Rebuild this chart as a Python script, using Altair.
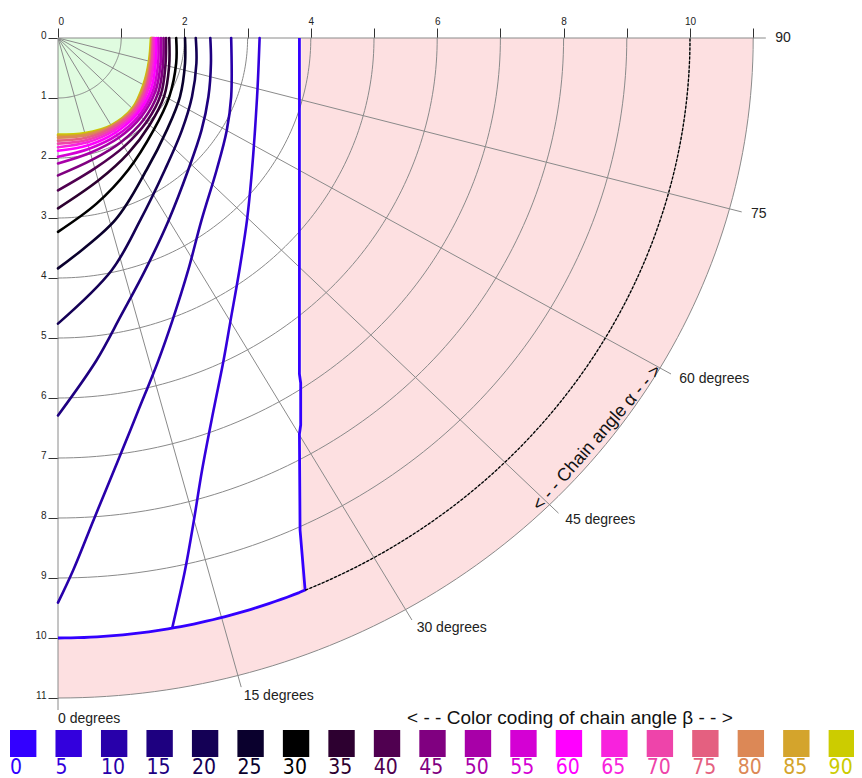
import numpy as np
import pandas as pd
import altair as alt

# ---------------- data ----------------
betas = list(range(0, 95, 5))
beta_colors = ["#3300ff", "#3300dd", "#2800aa", "#1e0080", "#140055", "#0a002d",
               "#000000", "#2d0030", "#500050", "#800080", "#a800a8", "#d400d4",
               "#ff00ff", "#f822dd", "#ee44aa", "#e46080", "#dc8856", "#d4a42c",
               "#cccc00"]

# chain-angle beta curves, cartesian readings (x to the right, y downwards)
b0_x = [3.82, 3.82, 3.84, 3.84, 3.82, 3.83, 3.91]
b0_y = [0.00, 5.60, 5.75, 6.45, 6.60, 8.20, 9.20]
b5_x = [3.19, 3.15, 3.06, 2.99, 2.87, 2.73, 2.62, 2.46, 2.28, 2.15, 2.01, 1.81]
b5_y = [0.00, 0.98, 2.32, 3.04, 3.87, 4.71, 5.37, 6.21, 7.20, 8.04, 8.87, 9.82]
b10_x = [2.74, 2.74, 2.67, 2.51, 2.27, 2.06, 1.81, 1.59, 1.27, 0.95, 0.56, 0.24, 0.00]
b10_y = [0.00, 0.98, 1.54, 2.20, 3.04, 3.87, 4.71, 5.37, 6.21, 7.04, 8.04, 8.87, 9.41]
b15_x = [2.41, 2.42, 2.38, 2.27, 2.06, 1.75, 1.38, 1.00, 0.61, 0.00]
b15_y = [0.00, 0.42, 0.98, 1.54, 2.20, 3.04, 3.87, 4.62, 5.37, 6.29]
b20_x = [2.18, 2.19, 2.12, 1.96, 1.69, 1.30, 0.85, 0.00]
b20_y = [0.00, 0.42, 0.98, 1.54, 2.20, 3.04, 3.87, 4.76]
b25_x = [2.01, 2.01, 1.93, 1.72, 1.40, 0.90, 0.00]
b25_y = [0.00, 0.42, 0.98, 1.54, 2.20, 3.04, 3.84]
b30_x = [1.87, 1.87, 1.76, 1.51, 1.11, 0.61, 0.00]
b30_y = [0.00, 0.42, 0.98, 1.54, 2.20, 2.76, 3.23]

# crowded curves near the origin: radius read at angles from the vertical axis
polar_theta = [0, 15, 30, 45, 60, 75, 90]
r35 = [2.84, 2.46, 2.22, 2.05, 1.94, 1.82, 1.76]
r40 = [2.54, 2.25, 2.09, 1.98, 1.88, 1.76, 1.71]
r45 = [2.29, 2.10, 2.00, 1.92, 1.83, 1.72, 1.67]
r50 = [2.09, 1.98, 1.92, 1.86, 1.78, 1.68, 1.63]
r55 = [1.98, 1.91, 1.87, 1.82, 1.74, 1.64, 1.59]
r60 = [1.88, 1.85, 1.82, 1.78, 1.70, 1.60, 1.56]
r65 = [1.82, 1.80, 1.78, 1.75, 1.66, 1.57, 1.53]
r70 = [1.76, 1.76, 1.75, 1.72, 1.63, 1.54, 1.51]
r75 = [1.71, 1.72, 1.72, 1.70, 1.61, 1.53, 1.50]
r80 = [1.66, 1.68, 1.70, 1.68, 1.59, 1.51, 1.49]
r85 = [1.63, 1.66, 1.69, 1.67, 1.57, 1.50, 1.48]
r90 = [1.61, 1.64, 1.68, 1.66, 1.56, 1.49, 1.47]

alpha_radius = 10.0
outer_radius = 11.0
ray_radius = 11.2
grid_radii = list(range(1, 12))
ray_angles = [0, 15, 30, 45, 60, 75, 90]
ray_labels = ["0 degrees", "15 degrees", "30 degrees", "45 degrees",
              "60 degrees", "75", "90"]
axis_ticks = list(range(0, 12))

# ---------------- layout ----------------
X_MAX, Y_MAX = 12.5, 12.2
W, H = 790, 732
FONT = "Liberation Sans"

xs = alt.Scale(domain=[0, X_MAX], nice=False, zero=False)
ys = alt.Scale(domain=[0, Y_MAX], nice=False, zero=False, reverse=True)
xaxis = alt.Axis(orient="top", values=axis_ticks,
                 labelExpr="datum.value % 2 == 0 ? datum.label : ''",
                 tickSize=10, domain=False, grid=False, title=None,
                 labelFontSize=10, labelFont=FONT, labelColor="#222",
                 tickColor="#333", labelPadding=2, labelOverlap=False)
yaxis = alt.Axis(orient="left", values=axis_ticks, tickSize=10, domain=False,
                 grid=False, title=None, labelFontSize=10, labelFont=FONT,
                 labelColor="#222", tickColor="#333", labelPadding=2,
                 labelBaseline="alphabetic", labelOverlap=False)


def X(f):
    return alt.X(f, type="quantitative", scale=xs, axis=xaxis)


def Y(f):
    return alt.Y(f, type="quantitative", scale=ys, axis=yaxis)


def polar_df(r_list, th_deg):
    th = np.radians(np.asarray(th_deg, dtype=float))
    r = np.asarray(r_list, dtype=float)
    return pd.DataFrame({"x": r * np.sin(th), "y": r * np.cos(th),
                         "i": np.arange(len(th))})


# background regions
xa = np.linspace(0, outer_radius, 300)
annulus = pd.DataFrame({"x": xa,
                        "y": np.sqrt(np.clip(alpha_radius**2 - xa**2, 0, None)),
                        "y2": np.sqrt(np.clip(outer_radius**2 - xa**2, 0, None))})
xb = np.linspace(3.85, alpha_radius, 200)
block = pd.DataFrame({"x": xb, "y": 0.0,
                      "y2": np.sqrt(np.clip(alpha_radius**2 - xb**2, 0, None))})
pink = "#fde0e1"
green_df = polar_df(r90, polar_theta)
green_df["y2"] = 0.0

layers = []
layers.append(alt.Chart(annulus).mark_area(color=pink, opacity=1).encode(
    x=X("x"), y=Y("y"), y2="y2"))
layers.append(alt.Chart(block).mark_area(color=pink, opacity=1).encode(
    x=X("x"), y=Y("y"), y2="y2"))
layers.append(alt.Chart(green_df).mark_area(color="#e0fce0", opacity=1,
                                            interpolate="catmull-rom").encode(
    x=X("x"), y=Y("y"), y2="y2"))

# polar grid
gt = np.arange(0, 90.5, 1.0)
grid_rows = []
for r in grid_radii:
    for k, t in enumerate(gt):
        grid_rows.append({"r": r, "i": k, "x": r * np.sin(np.radians(t)),
                          "y": r * np.cos(np.radians(t))})
grid_df = pd.DataFrame(grid_rows)
layers.append(alt.Chart(grid_df).mark_line(color="#8a8a8a", strokeWidth=1).encode(
    x=X("x"), y=Y("y"), detail="r:N", order="i:Q"))

rays = pd.DataFrame({"a": ray_angles})
rays["x"] = 0.0
rays["y"] = 0.0
rays["x2"] = ray_radius * np.sin(np.radians(rays["a"]))
rays["y2"] = ray_radius * np.cos(np.radians(rays["a"]))
layers.append(alt.Chart(rays).mark_rule(color="#8a8a8a", strokeWidth=1).encode(
    x=X("x"), y=Y("y"), x2="x2", y2="y2"))

ray_text = pd.DataFrame({"label": ray_labels, "a": ray_angles})
ray_text["x"] = 11.35 * np.sin(np.radians(ray_text["a"]))
ray_text["y"] = 11.35 * np.cos(np.radians(ray_text["a"]))
layers.append(alt.Chart(ray_text).mark_text(align="left", baseline="middle",
                                            fontSize=14, font=FONT,
                                            color="#222").encode(
    x=X("x"), y=Y("y"), text="label:N"))

# beta curves
curves = {}
curves[5] = pd.DataFrame({"x": b5_x, "y": b5_y})
curves[10] = pd.DataFrame({"x": b10_x, "y": b10_y})
curves[15] = pd.DataFrame({"x": b15_x, "y": b15_y})
curves[20] = pd.DataFrame({"x": b20_x, "y": b20_y})
curves[25] = pd.DataFrame({"x": b25_x, "y": b25_y})
curves[30] = pd.DataFrame({"x": b30_x, "y": b30_y})
for b, rr in zip(range(35, 95, 5), [r35, r40, r45, r50, r55, r60, r65, r70,
                                     r75, r80, r85, r90]):
    curves[b] = polar_df(rr, polar_theta)
for b in curves:
    curves[b]["i"] = np.arange(len(curves[b]))

color_of = dict(zip(betas, beta_colors))
for b in sorted(curves.keys(), reverse=True):
    layers.append(alt.Chart(curves[b]).mark_line(
        color=color_of[b], strokeWidth=2.6, interpolate="catmull-rom",
        strokeCap="round").encode(x=X("x"), y=Y("y"), order="i:Q"))

# beta = 0: vertical reading, then along the alpha boundary circle
th_c = np.degrees(np.arctan2(b0_x[-1], b0_y[-1]))
arc_t = np.radians(np.linspace(th_c, 0, 40))
b0_df = pd.DataFrame({"x": b0_x + list(alpha_radius * np.sin(arc_t))[1:],
                      "y": b0_y + list(alpha_radius * np.cos(arc_t))[1:]})
b0_df["i"] = np.arange(len(b0_df))
layers.append(alt.Chart(b0_df).mark_line(color=color_of[0], strokeWidth=2.8,
                                         strokeJoin="round").encode(
    x=X("x"), y=Y("y"), order="i:Q"))

# alpha boundary dashed arc
dash_t = np.radians(np.linspace(th_c, 90, 120))
dash_df = pd.DataFrame({"x": alpha_radius * np.sin(dash_t),
                        "y": alpha_radius * np.cos(dash_t),
                        "i": np.arange(120)})
layers.append(alt.Chart(dash_df).mark_line(color="#000", strokeWidth=1.3,
                                           strokeDash=[3, 1.5]).encode(
    x=X("x"), y=Y("y"), order="i:Q"))

# titles
chain_r, chain_t = 10.83, 52.0
chain_df = pd.DataFrame({"x": [chain_r * np.sin(np.radians(chain_t))],
                         "y": [chain_r * np.cos(np.radians(chain_t))],
                         "t": ["< - - Chain angle \u03b1 - - >"]})
layers.append(alt.Chart(chain_df).mark_text(angle=311, fontSize=18, font=FONT,
                                            color="#111", align="center",
                                            baseline="middle").encode(
    x=X("x"), y=Y("y"), text="t:N"))
title_df = pd.DataFrame({"x": [8.1], "y": [11.34],
                         "t": ["< - - Color coding of chain angle \u03b2 - - >"]})
layers.append(alt.Chart(title_df).mark_text(fontSize=19, font=FONT,
                                            color="#111", align="center",
                                            baseline="middle").encode(
    x=X("x"), y=Y("y"), text="t:N"))

main = alt.layer(*layers)

# colour legend (own band scale)
legend_df = pd.DataFrame({"beta": betas, "label": [str(b) for b in betas]})
band = alt.Scale(domain=betas, range=[-48, 797], paddingInner=0.42,
                 paddingOuter=0)
cscale = alt.Scale(domain=betas, range=beta_colors)
sw = alt.Chart(legend_df).mark_rect().encode(
    x=alt.X("beta:O", scale=band, axis=None),
    y=alt.value(692), y2=alt.value(719),
    color=alt.Color("beta:O", scale=cscale, legend=None))
lab = alt.Chart(legend_df).mark_text(
    align="left", baseline="top", fontSize=21, dx=0,
    font="Liberation Sans Narrow, DejaVu Sans Condensed, Liberation Sans").encode(
    x=alt.X("beta:O", scale=band, axis=None, bandPosition=0),
    y=alt.value(719), text="label:N",
    color=alt.Color("beta:O", scale=cscale, legend=None))
legend = alt.layer(sw, lab)

chart = alt.layer(main, legend).resolve_scale(
    x="independent", y="independent", color="independent").properties(
    width=W, height=H,
    padding={"left": 50, "top": 30, "right": 6, "bottom": 16},
    autosize=alt.AutoSizeParams(type="none"),
    background="white").configure_view(stroke=None)

chart.save("out.html", embed_options={"renderer": "svg", "actions": False})
